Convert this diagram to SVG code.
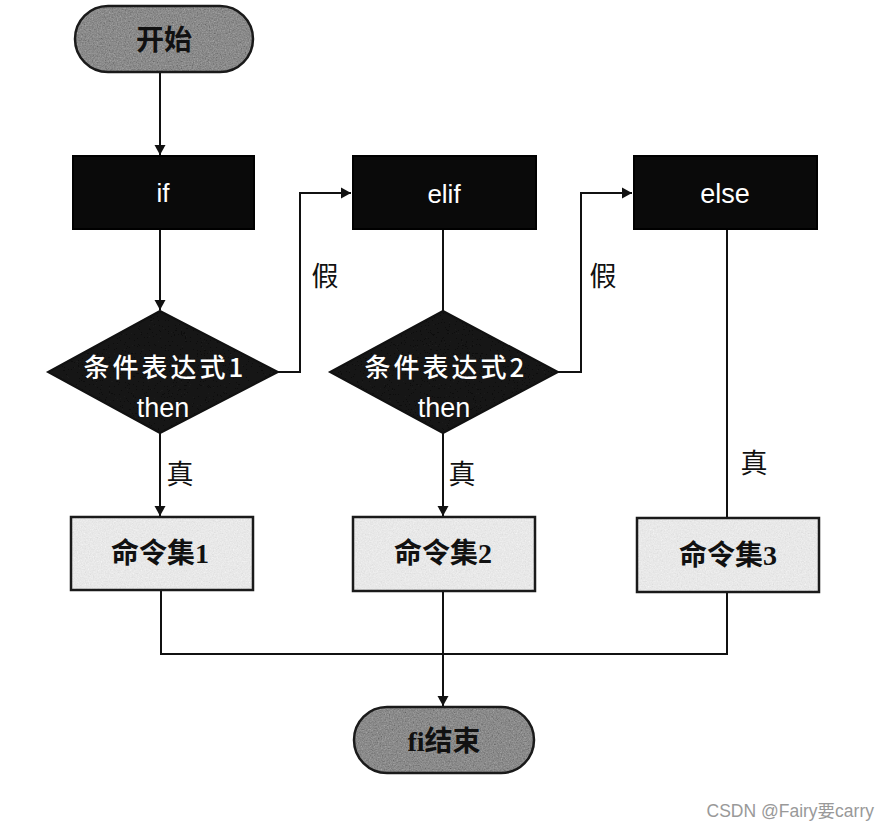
<svg xmlns="http://www.w3.org/2000/svg" width="891" height="829" viewBox="0 0 891 829">
<defs>
<style>
.ln{fill:none;stroke:#111;stroke-width:2}
.blk{fill:#0a0a0a;stroke:#000;stroke-width:2}
.wt{fill:#fff;font-family:"Liberation Sans","Noto Sans CJK SC",sans-serif;text-anchor:middle}
.dt{fill:#fff;font-family:"Noto Sans CJK SC",sans-serif;font-weight:500;font-size:26px;letter-spacing:3px;text-anchor:middle}
.lbl{fill:#111;font-family:"Noto Sans CJK SC",sans-serif;font-size:27px;text-anchor:middle}
.ct{fill:#111;font-family:"Liberation Serif","Noto Sans CJK SC",serif;font-weight:bold;font-size:28px;text-anchor:middle}
.edge{fill:none;stroke:#1a1a1a;stroke-width:2.5}
</style>
<filter id="grain" x="0" y="0" width="100%" height="100%">
<feTurbulence type="fractalNoise" baseFrequency="0.75" numOctaves="2" seed="4" result="t"/>
<feColorMatrix in="t" type="saturate" values="0" result="g"/>
<feComponentTransfer in="g" result="g2"><feFuncR type="linear" slope="1.4" intercept="-0.2"/><feFuncG type="linear" slope="1.4" intercept="-0.2"/><feFuncB type="linear" slope="1.4" intercept="-0.2"/></feComponentTransfer>
<feBlend in="g2" in2="SourceGraphic" mode="overlay" result="m"/>
<feComposite in="m" in2="SourceGraphic" operator="in"/>
</filter>
<marker id="arr" markerUnits="userSpaceOnUse" markerWidth="10" markerHeight="14" refX="10" refY="7" orient="auto">
<path d="M0,1.5 L10,7 L0,12.5 z" fill="#111"/>
</marker>
</defs>
<rect width="891" height="829" fill="#fff"/>

<g id="connectors">
<path class="ln" d="M160,72 V155" marker-end="url(#arr)"/>
<path class="ln" d="M160,229 V310" marker-end="url(#arr)"/>
<path class="ln" d="M160,433 V516" marker-end="url(#arr)"/>
<path class="ln" d="M278,372 H300 V193 H351" marker-end="url(#arr)"/>
<path class="ln" d="M443,229 V311"/>
<path class="ln" d="M443,433 V516" marker-end="url(#arr)"/>
<path class="ln" d="M558,372 H581 V193 H632" marker-end="url(#arr)"/>
<path class="ln" d="M727,229 V518"/>
<path class="ln" d="M161,590 V654 H727 V592"/>
<path class="ln" d="M443,591 V706" marker-end="url(#arr)"/>
<text class="lbl" x="325" y="286">假</text>
<text class="lbl" x="603" y="286">假</text>
<text class="lbl" x="180" y="484">真</text>
<text class="lbl" x="462" y="484">真</text>
<text class="lbl" x="754" y="473">真</text>
</g>

<g id="start">
<rect x="75" y="6" width="178" height="66" rx="33" fill="#8a8a8a" filter="url(#grain)"/>
<rect class="edge" x="75" y="6" width="178" height="66" rx="33"/>
<text x="164" y="50" text-anchor="middle" font-family="Noto Sans CJK SC, sans-serif" font-weight="bold" font-size="28" fill="#111">开始</text>
</g>

<g id="if">
<rect class="blk" x="73" y="156" width="181" height="73"/>
<text class="wt" x="163" y="202" font-size="26">if</text>
</g>
<g id="elif">
<rect class="blk" x="353" y="156" width="183" height="73"/>
<text class="wt" x="444" y="203" font-size="26">elif</text>
</g>
<g id="else">
<rect class="blk" x="634" y="156" width="183" height="73"/>
<text class="wt" x="725" y="203" font-size="27">else</text>
</g>

<g id="cond1">
<polygon points="160,311 278,372 160,433 48,372" fill="#151515" filter="url(#grain)"/>
<polygon class="ln" points="160,311 278,372 160,433 48,372" stroke="#000" stroke-width="1.5"/>
<text class="dt" x="165" y="377">条件表达式1</text>
<text class="wt" x="163" y="417" font-size="27">then</text>
</g>
<g id="cond2">
<polygon points="443,311 558,372 443,433 330,372" fill="#151515" filter="url(#grain)"/>
<polygon class="ln" points="443,311 558,372 443,433 330,372" stroke="#000" stroke-width="1.5"/>
<text class="dt" x="446" y="377">条件表达式2</text>
<text class="wt" x="444" y="417" font-size="27">then</text>
</g>

<g id="cmd1">
<rect x="71" y="517" width="182" height="73" fill="#e8e8e8" filter="url(#grain)"/>
<rect class="edge" x="71" y="517" width="182" height="73"/>
<text class="ct" x="160" y="563">命令集1</text>
</g>
<g id="cmd2">
<rect x="353" y="517" width="182" height="74" fill="#e8e8e8" filter="url(#grain)"/>
<rect class="edge" x="353" y="517" width="182" height="74"/>
<text class="ct" x="443" y="563">命令集2</text>
</g>
<g id="cmd3">
<rect x="637" y="518" width="182" height="74" fill="#e8e8e8" filter="url(#grain)"/>
<rect class="edge" x="637" y="518" width="182" height="74"/>
<text class="ct" x="728" y="565">命令集3</text>
</g>

<g id="end">
<rect x="354" y="707" width="180" height="66" rx="33" fill="#8a8a8a" filter="url(#grain)"/>
<rect class="edge" x="354" y="707" width="180" height="66" rx="33"/>
<text class="ct" x="444" y="751">fi结束</text>
</g>

<text x="874" y="817" text-anchor="end" font-family="Liberation Sans, Noto Sans CJK SC, sans-serif" font-size="17.5" fill="#999">CSDN @Fairy要carry</text>
</svg>
